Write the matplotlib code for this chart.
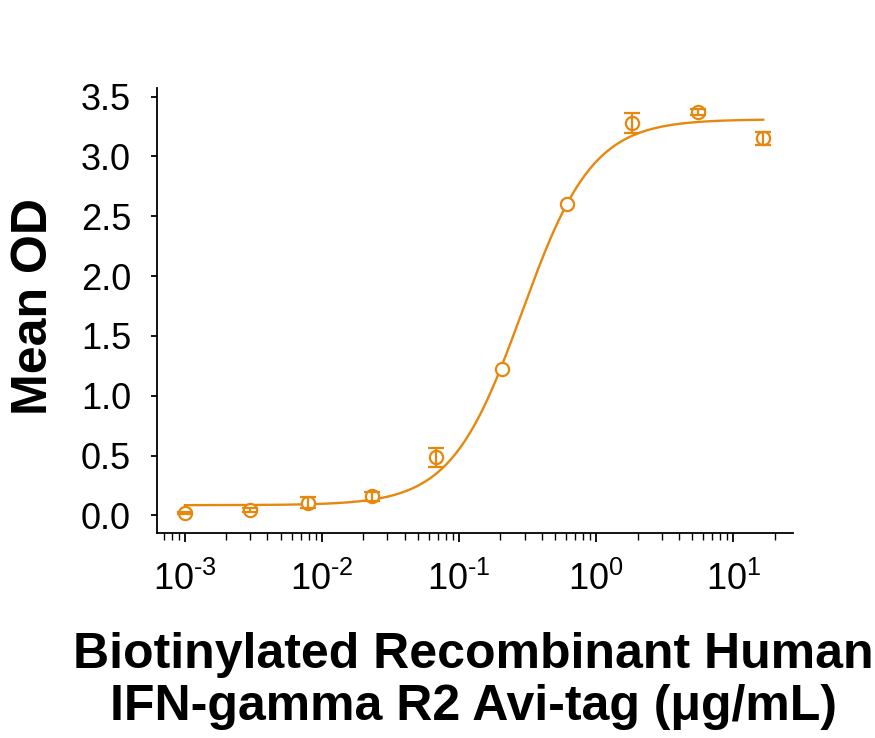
import numpy as np
import matplotlib
matplotlib.use("Agg")
import matplotlib.pyplot as plt
from matplotlib.ticker import LogLocator, FixedLocator, FixedFormatter, NullFormatter

plt.rcParams['font.family'] = ['Liberation Sans', 'DejaVu Sans']
plt.rcParams['mathtext.fontset'] = 'custom'
plt.rcParams['mathtext.rm'] = 'Liberation Sans'
plt.rcParams['mathtext.it'] = 'Liberation Sans:italic'
plt.rcParams['mathtext.bf'] = 'Liberation Sans:bold'

# ---- data ----
conc = [0.001, 0.003, 0.0079, 0.023, 0.0683, 0.204, 0.608, 1.83, 5.55, 16.5]
mean_od = [0.022, 0.044, 0.106, 0.161, 0.487, 1.224, 2.604, 3.28, 3.37, 3.15]
sem_od = [0.006, 0.015, 0.045, 0.039, 0.080, 0.0, 0.0, 0.086, 0.028, 0.056]

# 4PL fit parameters (as drawn in the reference)
fit_bottom = 0.086
fit_top = 3.31
fit_ec50 = 0.287
fit_hill = 1.68

x_ticks = [1e-3, 1e-2, 1e-1, 1e0, 1e1]
x_tick_labels = [r'$\mathdefault{10^{\text{-}3}}$', r'$\mathdefault{10^{\text{-}2}}$',
                 r'$\mathdefault{10^{\text{-}1}}$', r'$\mathdefault{10^{0}}$', r'$\mathdefault{10^{1}}$']
y_ticks = [0.0, 0.5, 1.0, 1.5, 2.0, 2.5, 3.0, 3.5]
y_tick_labels = ['0.0', '0.5', '1.0', '1.5', '2.0', '2.5', '3.0', '3.5']

ylabel = 'Mean OD'
xlabel_1 = 'Biotinylated Recombinant Human'
xlabel_2 = 'IFN-gamma R2 Avi-tag (μg/mL)'

color = '#E8870E'

W, H = 875, 738
fig = plt.figure(figsize=(W / 100, H / 100), dpi=100)
x0, x1, ytop, ybot = 156.7, 793.3, 88.3, 533.3
ax = fig.add_axes([x0 / W, 1 - ybot / H, (x1 - x0) / W, (ybot - ytop) / H])

# fitted curve
xc = np.logspace(np.log10(conc[0]), np.log10(conc[-1]), 400)
yc = fit_bottom + (fit_top - fit_bottom) / (1 + (fit_ec50 / xc) ** fit_hill)
ax.plot(xc, yc, color=color, lw=1.7, zorder=2)

# points
ax.plot(conc, mean_od, linestyle='none', marker='o', ms=9.5, mfc='white', mec=color, mew=1.6, zorder=3)
c = np.array(conc); m = np.array(mean_od); e = np.array(sem_od)
sel = e > 0
ax.errorbar(c[sel], m[sel], yerr=e[sel], fmt='none', ecolor=color, elinewidth=1.6,
            capsize=5.5, capthick=1.6, zorder=3)

ax.set_xscale('log')
ax.set_xlim(10 ** -3.206, 10 ** 1.437)
ax.set_ylim(-0.149, 3.569)

ax.xaxis.set_major_locator(FixedLocator(x_ticks))
ax.xaxis.set_major_formatter(FixedFormatter(x_tick_labels))
ax.xaxis.set_minor_locator(LogLocator(base=10, subs=np.arange(2, 10), numticks=20))
ax.xaxis.set_minor_formatter(NullFormatter())
ax.yaxis.set_major_locator(FixedLocator(y_ticks))
ax.yaxis.set_major_formatter(FixedFormatter(y_tick_labels))

for s in ['top', 'right']:
    ax.spines[s].set_visible(False)
for s in ['left', 'bottom']:
    ax.spines[s].set_linewidth(1.3)

ax.tick_params(axis='y', which='major', direction='out', length=4.5, width=1.3, pad=14, labelsize=26)
ax.tick_params(axis='x', which='major', direction='out', length=6.5, width=1.3, pad=14, labelsize=26)
ax.tick_params(axis='x', which='minor', direction='out', length=5, width=1.0)

fig.text(46.7 / W, 1 - 306.5 / H, ylabel, rotation=90, rotation_mode='anchor',
         ha='center', va='baseline', fontsize=36, fontweight='bold')
fig.text(473 / W, 1 - 667.7 / H, xlabel_1, ha='center', va='baseline', fontsize=36, fontweight='bold')
fig.text(473 / W, 1 - 720 / H, xlabel_2, ha='center', va='baseline', fontsize=36, fontweight='bold')

fig.savefig('out.png', dpi=100)
